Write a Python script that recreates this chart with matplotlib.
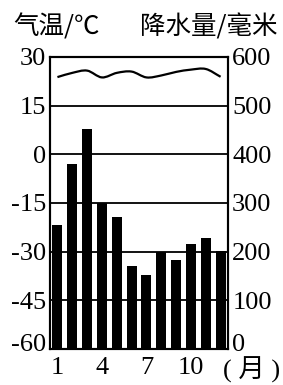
"""Climate chart: monthly precipitation bars with a temperature curve."""
import numpy as np
import matplotlib
matplotlib.use("Agg")
import matplotlib.pyplot as plt
import matplotlib.transforms as mtrans
from matplotlib.path import Path
from matplotlib.patches import PathPatch

months = list(range(1, 13))
temp_c = [23.8, 25.1, 25.8, 23.7, 25.1, 25.5, 23.7, 24.3, 25.4, 26.1, 26.3, 23.9]
precip_mm = [255, 380, 452, 300, 271, 170, 152, 200, 183, 216, 228, 201]

temp_ticks = [30, 15, 0, -15, -30, -45, -60]
precip_ticks = [600, 500, 400, 300, 200, 100, 0]
month_ticks = [1, 4, 7, 10]

CJK = ["Noto Sans CJK SC", "DejaVu Sans"]
NUM = "Liberation Serif"


def smooth_path(xs, ys):
    """Catmull-Rom through the points, as cubic Bezier segments."""
    pts = np.column_stack([xs, ys]).astype(float)
    ext = np.vstack([pts[0] - (pts[1] - pts[0]), pts, pts[-1] + (pts[-1] - pts[-2])])
    verts = [tuple(pts[0])]
    codes = [Path.MOVETO]
    for i in range(1, len(ext) - 2):
        p0, p1, p2, p3 = ext[i - 1], ext[i], ext[i + 1], ext[i + 2]
        c1 = p1 + (p2 - p0) / 6.0
        c2 = p2 - (p3 - p1) / 6.0
        verts += [tuple(c1), tuple(c2), tuple(p2)]
        codes += [Path.CURVE4] * 3
    return Path(verts, codes)


fig = plt.figure(figsize=(2.83, 3.85), dpi=100)
ax_t = fig.add_axes([0.1767, 0.0935, 0.629, 0.7585])
ax_p = ax_t.twinx()
ax_t.set_zorder(2)
ax_p.set_zorder(1)
ax_t.patch.set_visible(False)

# precipitation bars
ax_p.bar(months, precip_mm, width=0.68, color="black")
ax_p.set_ylim(0, 600)
ax_p.set_yticks(precip_ticks)
ax_p.set_yticklabels([str(v) for v in precip_ticks], fontfamily=NUM, fontsize=19)
ax_p.tick_params(axis="y", length=0, pad=3)

# temperature curve + grid
ax_t.set_xlim(0.5, 12.5)
ax_t.set_ylim(-60, 30)
ax_t.add_patch(PathPatch(smooth_path(months, temp_c), fill=False,
                         edgecolor="black", linewidth=1.6))
for v in temp_ticks[1:-1]:
    ax_t.axhline(v, color="black", linewidth=1.3)
ax_t.set_yticks(temp_ticks)
ax_t.set_yticklabels([str(v) for v in temp_ticks], fontfamily=NUM, fontsize=19)
ax_t.set_xticks(month_ticks)
ax_t.set_xticklabels([str(m) for m in month_ticks], fontfamily=NUM, fontsize=19)
ax_t.tick_params(axis="y", length=0, pad=3)
ax_t.tick_params(axis="x", length=0, pad=6)

for ax in (ax_t, ax_p):
    for s in ax.spines.values():
        s.set_linewidth(1.5)

# the bottom labels sit a little above the baseline
raise_up = mtrans.ScaledTranslation(0, 7 / 100, fig.dpi_scale_trans)
fig.canvas.draw()
for lbl in (ax_t.get_yticklabels()[-1], ax_p.get_yticklabels()[-1]):
    lbl.set_transform(lbl.get_transform() + raise_up)

fig.text(0.046, 0.93, "气温/℃", family=CJK, fontsize=18.4, va="center", ha="left")
fig.text(0.982, 0.93, "降水量/毫米", family=CJK, fontsize=18.4, va="center", ha="right")
fig.text(0.99, 0.039, "( 月 )", family=[NUM, "Noto Sans CJK SC"], fontsize=19,
         va="center", ha="right")

fig.savefig("out.png", dpi=100)
